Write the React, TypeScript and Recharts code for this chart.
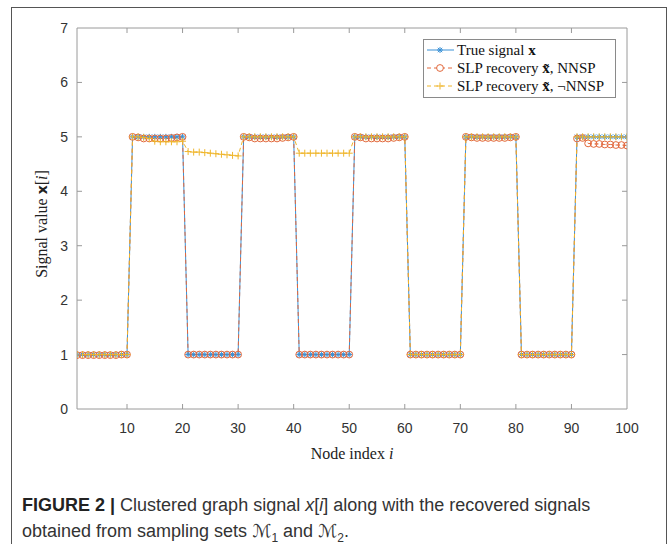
import React from 'react';
import { LineChart, Line, XAxis, YAxis } from 'recharts';

const nodeIndex = [
  1, 2, 3, 4, 5, 6, 7, 8, 9, 10,
  11, 12, 13, 14, 15, 16, 17, 18, 19, 20,
  21, 22, 23, 24, 25, 26, 27, 28, 29, 30,
  31, 32, 33, 34, 35, 36, 37, 38, 39, 40,
  41, 42, 43, 44, 45, 46, 47, 48, 49, 50,
  51, 52, 53, 54, 55, 56, 57, 58, 59, 60,
  61, 62, 63, 64, 65, 66, 67, 68, 69, 70,
  71, 72, 73, 74, 75, 76, 77, 78, 79, 80,
  81, 82, 83, 84, 85, 86, 87, 88, 89, 90,
  91, 92, 93, 94, 95, 96, 97, 98, 99, 100,
];

const trueSignal = [
  1, 1, 1, 1, 1, 1, 1, 1, 1, 1,
  5, 5, 5, 5, 5, 5, 5, 5, 5, 5,
  1, 1, 1, 1, 1, 1, 1, 1, 1, 1,
  5, 5, 5, 5, 5, 5, 5, 5, 5, 5,
  1, 1, 1, 1, 1, 1, 1, 1, 1, 1,
  5, 5, 5, 5, 5, 5, 5, 5, 5, 5,
  1, 1, 1, 1, 1, 1, 1, 1, 1, 1,
  5, 5, 5, 5, 5, 5, 5, 5, 5, 5,
  1, 1, 1, 1, 1, 1, 1, 1, 1, 1,
  5, 5, 5, 5, 5, 5, 5, 5, 5, 5,
];

const recoveryNNSP = [
  0.99, 0.99, 0.99, 0.99, 0.99, 0.99, 0.99, 0.99, 1.0, 1.0,
  5.0, 4.99, 4.97, 4.97, 4.97, 4.97, 4.97, 4.98, 4.99, 5.0,
  1.0, 1.0, 1.0, 1.0, 1.0, 1.0, 1.0, 1.0, 1.0, 1.0,
  5.0, 4.99, 4.97, 4.97, 4.97, 4.97, 4.97, 4.98, 4.99, 5.0,
  1.0, 1.0, 1.0, 1.0, 1.0, 1.0, 1.0, 1.0, 1.0, 1.0,
  5.0, 4.99, 4.97, 4.97, 4.97, 4.97, 4.97, 4.98, 4.99, 5.0,
  1.0, 1.0, 1.0, 1.0, 1.0, 1.0, 1.0, 1.0, 1.0, 1.0,
  5.0, 4.99, 4.98, 4.98, 4.98, 4.98, 4.98, 4.98, 4.99, 5.0,
  1.0, 1.0, 1.0, 1.0, 1.0, 1.0, 1.0, 1.0, 1.0, 1.0,
  4.97, 4.98, 4.88, 4.87, 4.87, 4.86, 4.86, 4.85, 4.85, 4.84,
];

const recoveryNotNNSP = [
  1, 1, 1, 1, 1, 1, 1, 1, 1, 1,
  5.0, 5.0, 4.99, 4.97, 4.92, 4.91, 4.91, 4.91, 4.91, 4.92,
  4.73, 4.72, 4.72, 4.71, 4.70, 4.69, 4.68, 4.67, 4.66, 4.65,
  5.0, 5.0, 5.0, 5.0, 5.0, 5.0, 5.0, 5.0, 5.0, 5.0,
  4.70, 4.70, 4.70, 4.70, 4.70, 4.70, 4.70, 4.70, 4.70, 4.70,
  5.0, 5.0, 5.0, 5.0, 5.0, 5.0, 5.0, 5.0, 5.0, 5.0,
  1, 1, 1, 1, 1, 1, 1, 1, 1, 1,
  5.0, 5.0, 5.0, 5.0, 5.0, 5.0, 5.0, 5.0, 5.0, 5.0,
  1, 1, 1, 1, 1, 1, 1, 1, 1, 1,
  5.0, 5.0, 5.0, 5.0, 5.0, 5.0, 5.0, 5.0, 5.0, 5.0,
];

const xTicks = [10, 20, 30, 40, 50, 60, 70, 80, 90, 100];
const yTicks = [0, 1, 2, 3, 4, 5, 6, 7];

const seriesNames = ['True signal ', 'SLP recovery ', 'SLP recovery '];

const data = nodeIndex.map((n, i) => ({
  i: n,
  x: trueSignal[i],
  nnsp: recoveryNNSP[i],
  notnnsp: recoveryNotNNSP[i],
}));

const BLUE = '#3a91d6';
const ORANGE = '#e2683c';
const YELLOW = '#efb62c';
const AXIS = '#9a9a9a';

const Star = (props: any) => {
  const { cx, cy, index } = props;
  if (cx == null || cy == null) return <g key={`s${index}`} />;
  const r = 3;
  const d = r * 0.75;
  return (
    <g key={`s${index}`} stroke={BLUE} strokeWidth={1}>
      <line x1={cx} y1={cy - r} x2={cx} y2={cy + r} />
      <line x1={cx - r} y1={cy} x2={cx + r} y2={cy} />
      <line x1={cx - d} y1={cy - d} x2={cx + d} y2={cy + d} />
      <line x1={cx - d} y1={cy + d} x2={cx + d} y2={cy - d} />
    </g>
  );
};

const Circle = (props: any) => {
  const { cx, cy, index } = props;
  if (cx == null || cy == null) return <g key={`c${index}`} />;
  return <circle key={`c${index}`} cx={cx} cy={cy} r={3.4} fill="none" stroke={ORANGE} strokeWidth={1} />;
};

const Plus = (props: any) => {
  const { cx, cy, index } = props;
  if (cx == null || cy == null) return <g key={`p${index}`} />;
  const r = 3.5;
  return (
    <g key={`p${index}`} stroke={YELLOW} strokeWidth={1}>
      <line x1={cx} y1={cy - r} x2={cx} y2={cy + r} />
      <line x1={cx - r} y1={cy} x2={cx + r} y2={cy} />
    </g>
  );
};

const BottomTick = (props: any) => {
  const { x, y, payload } = props;
  return (
    <g>
      {payload.value !== 100 && <line x1={x} y1={y} x2={x} y2={y - 5} stroke={AXIS} />}
      <text x={x} y={y + 24} textAnchor="middle" fontFamily="Liberation Sans, Arial, sans-serif" fontSize={14} fill="#333">
        {payload.value}
      </text>
    </g>
  );
};

const TopTick = (props: any) => {
  const { x, y, payload } = props;
  if (payload.value === 100) return <g />;
  return <line x1={x} y1={y} x2={x} y2={y + 5} stroke={AXIS} />;
};

const LeftTick = (props: any) => {
  const { x, y, payload } = props;
  return (
    <g>
      {payload.value !== 0 && payload.value !== 7 && <line x1={x} y1={y} x2={x + 5} y2={y} stroke={AXIS} />}
      <text x={x - 9} y={y + 5} textAnchor="end" fontFamily="Liberation Sans, Arial, sans-serif" fontSize={14} fill="#333">
        {payload.value}
      </text>
    </g>
  );
};

const RightTick = (props: any) => {
  const { x, y, payload } = props;
  if (payload.value === 0 || payload.value === 7) return <g />;
  return <line x1={x} y1={y} x2={x - 5} y2={y} stroke={AXIS} />;
};

const legendRow = (color: string, marker: string, dashed: boolean, label: string, suffix: string, tilde: boolean) => (
  <div style={{ display: 'flex', alignItems: 'center', height: 18 }}>
    <svg width={32} height={18} style={{ flex: 'none' }}>
      <line x1={3} y1={9} x2={30} y2={9} stroke={color} strokeWidth={1} strokeDasharray={dashed ? '4 3' : undefined} />
      {marker === 'star' && (
        <g stroke={color}>
          <line x1={16} y1={6} x2={16} y2={12} />
          <line x1={13} y1={9} x2={19} y2={9} />
          <line x1={13.8} y1={6.8} x2={18.2} y2={11.2} />
          <line x1={13.8} y1={11.2} x2={18.2} y2={6.8} />
        </g>
      )}
      {marker === 'circle' && <circle cx={16} cy={9} r={3.4} fill="white" stroke={color} />}
      {marker === 'plus' && (
        <g stroke={color}>
          <line x1={16} y1={5.5} x2={16} y2={12.5} />
          <line x1={12.5} y1={9} x2={19.5} y2={9} />
        </g>
      )}
    </svg>
    <span style={{ marginLeft: 1, whiteSpace: 'nowrap' }}>
      {label}
      <b>{tilde ? 'x\u0303' : 'x'}</b>
      {suffix}
    </span>
  </div>
);

export default function App() {
  return (
    <div style={{ position: 'absolute', left: 0, top: 0, width: 670, height: 544, background: '#fff', overflow: 'hidden' }}>
      <div
        style={{
          position: 'absolute',
          left: 11,
          top: 7,
          width: 654,
          height: 600,
          borderLeft: '1px solid #555',
          borderTop: '1px solid #555',
          borderRight: '1px solid #555',
        }}
      />
      <div style={{ position: 'absolute', left: 0, top: 0 }}>
        <LineChart width={670} height={544} data={data} margin={{ top: 27, right: 42, bottom: 134, left: 76 }}>
          <XAxis
            xAxisId="b"
            dataKey="i"
            type="number"
            domain={[1, 100]}
            ticks={xTicks}
            height={1}
            tickSize={0}
            tickMargin={0}
            tickLine={false}
            axisLine={{ stroke: AXIS }}
            tick={<BottomTick />}
            interval={0}
            allowDataOverflow
          />
          <XAxis
            xAxisId="t"
            dataKey="i"
            type="number"
            orientation="top"
            domain={[1, 100]}
            ticks={xTicks}
            height={1}
            tickSize={0}
            tickMargin={0}
            tickLine={false}
            axisLine={{ stroke: AXIS }}
            tick={<TopTick />}
            interval={0}
            allowDataOverflow
          />
          <YAxis
            yAxisId="l"
            type="number"
            domain={[0, 7]}
            ticks={yTicks}
            width={1}
            tickSize={0}
            tickMargin={0}
            tickLine={false}
            axisLine={{ stroke: AXIS }}
            tick={<LeftTick />}
            interval={0}
            allowDataOverflow
          />
          <YAxis
            yAxisId="r"
            orientation="right"
            type="number"
            domain={[0, 7]}
            ticks={yTicks}
            width={1}
            tickSize={0}
            tickMargin={0}
            tickLine={false}
            axisLine={{ stroke: AXIS }}
            tick={<RightTick />}
            interval={0}
            allowDataOverflow
          />
          <Line xAxisId="b" yAxisId="l" type="linear" dataKey="x" stroke={BLUE} strokeWidth={1} dot={<Star />} isAnimationActive={false} name={seriesNames[0]} />
          <Line xAxisId="b" yAxisId="l" type="linear" dataKey="nnsp" stroke={ORANGE} strokeWidth={1} strokeDasharray="4 3" dot={<Circle />} isAnimationActive={false} name={seriesNames[1]} />
          <Line xAxisId="t" yAxisId="r" type="linear" dataKey="notnnsp" stroke={YELLOW} strokeWidth={1} strokeDasharray="4 3" dot={<Plus />} isAnimationActive={false} name={seriesNames[2]} />
        </LineChart>
      </div>
      <div
        style={{
          position: 'absolute',
          left: 423,
          top: 39,
          width: 191,
          height: 56,
          border: '1px solid #8a8a8a',
          background: '#fff',
          fontFamily: 'Liberation Serif, Times New Roman, serif',
          fontSize: 15,
          color: '#111',
          paddingTop: 1,
          boxSizing: 'content-box',
        }}
      >
        {legendRow(BLUE, 'star', false, seriesNames[0], '', false)}
        {legendRow(ORANGE, 'circle', true, seriesNames[1], ', NNSP', true)}
        {legendRow(YELLOW, 'plus', true, seriesNames[2], ', \u00acNNSP', true)}
      </div>
      <div
        style={{
          position: 'absolute',
          left: 42,
          top: 224,
          transform: 'translate(-50%, -50%) rotate(-90deg)',
          whiteSpace: 'nowrap',
          fontFamily: 'Liberation Serif, Times New Roman, serif',
          fontSize: 16,
          color: '#222',
        }}
      >
        Signal value <b style={{ fontFamily: 'DejaVu Sans, sans-serif', fontSize: 14 }}>x</b>[<i>i</i>]
      </div>
      <div
        style={{
          position: 'absolute',
          left: 352,
          top: 454,
          transform: 'translate(-50%, -50%)',
          whiteSpace: 'nowrap',
          fontFamily: 'Liberation Serif, Times New Roman, serif',
          fontSize: 16,
          color: '#222',
        }}
      >
        Node index <i>i</i>
      </div>
      <div
        style={{
          position: 'absolute',
          left: 22,
          top: 492,
          fontFamily: 'Liberation Sans, Arial, sans-serif',
          fontSize: 18,
          lineHeight: '26px',
          color: '#333',
          whiteSpace: 'nowrap',
        }}
      >
        <div>
          <b style={{ color: '#222' }}>FIGURE 2 |</b> Clustered graph signal <i>x</i>[<i>i</i>] along with the recovered signals
        </div>
        <div>
          obtained from sampling sets <span style={{ fontFamily: 'DejaVu Sans, sans-serif' }}>{'\u2133'}</span>
          <sub style={{ fontSize: 12 }}>1</sub> and <span style={{ fontFamily: 'DejaVu Sans, sans-serif' }}>{'\u2133'}</span>
          <sub style={{ fontSize: 12 }}>2</sub>.
        </div>
      </div>
    </div>
  );
}
